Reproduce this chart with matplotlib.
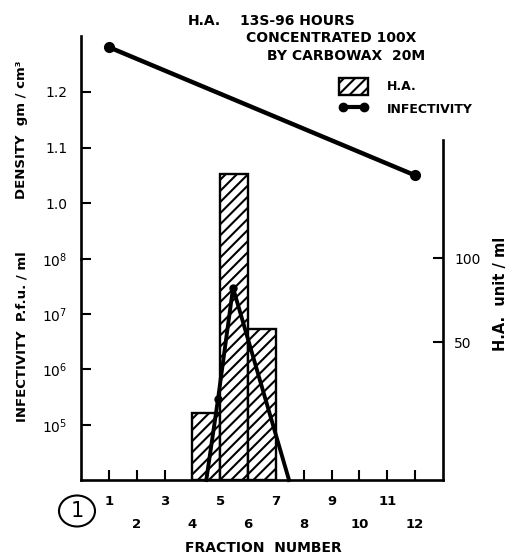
import matplotlib
matplotlib.use("Agg")
import matplotlib.pyplot as plt
from matplotlib.patches import Patch, Ellipse
from matplotlib.lines import Line2D
from matplotlib.ticker import NullLocator, FixedLocator

plt.rcParams["font.family"] = ["DejaVu Sans"]
plt.rcParams["mathtext.default"] = "regular"
plt.rcParams["hatch.linewidth"] = 1.5

# ---------------- data ----------------
density_fraction = [1, 12]
density_values = [1.28, 1.05]

ha_fraction = [4, 5, 6]
ha_units = [8, 150, 58]

inf_fraction = [4.5, 4.92, 5.46, 7.47]
inf_values = [1e4, 2.9e5, 3e7, 1e4]

odd_fractions = [1, 3, 5, 7, 9, 11]
even_fractions = [2, 4, 6, 8, 10, 12]
odd_labels = ["1", "3", "5", "7", "9", "11"]
even_labels = ["2", "4", "6", "8", "10", "12"]

density_ticks = [1.0, 1.1, 1.2]
density_tick_labels = ["1.0", "1.1", "1.2"]
inf_ticks = [1e5, 1e6, 1e7, 1e8]
inf_tick_labels = [r"$10^5$", r"$10^6$", r"$10^7$", r"$10^8$"]
ha_ticks = [50, 100]
ha_tick_labels = ["50", "100"]

# ---------------- layout ----------------
W, H = 513, 555
fig = plt.figure(figsize=(W / 100, H / 100), dpi=100)


def fx(px):
    return px / W


def fy(py):
    return 1 - py / H


L, R = 81, 443
TOP, MID, BOT = 36, 259, 480
XLIM = (0, 13)
HA_LIM = (-32, 232)
HA_SPINE_TOP = 170
SPW = 1.9

ax_ha = fig.add_axes([fx(L), fy(BOT), fx(R) - fx(L), fy(TOP) - fy(BOT)], zorder=1)
ax_up = fig.add_axes([fx(L), fy(MID), fx(R) - fx(L), fy(TOP) - fy(MID)], zorder=2)
ax_lo = fig.add_axes([fx(L), fy(BOT), fx(R) - fx(L), fy(MID) - fy(BOT)], zorder=2)

# ---- H.A. bars (right axis) ----
ax_ha.set_xlim(*XLIM)
ax_ha.set_ylim(*HA_LIM)
ax_ha.bar(ha_fraction, [v - HA_LIM[0] for v in ha_units], bottom=HA_LIM[0],
          width=1, align="edge", facecolor="white", edgecolor="black",
          hatch="///", linewidth=1.7)
for s in ["left", "top", "bottom"]:
    ax_ha.spines[s].set_visible(False)
ax_ha.spines["right"].set_linewidth(SPW)
ax_ha.spines["right"].set_bounds(HA_LIM[0], HA_SPINE_TOP)
ax_ha.set_xticks([])
ax_ha.yaxis.tick_right()
ax_ha.set_yticks(ha_ticks)
ax_ha.set_yticklabels(ha_tick_labels)
ax_ha.tick_params(axis="y", direction="in", length=7, width=1.5, pad=8,
                  labelsize=10)
ax_ha.patch.set_visible(False)

# ---- density (upper left axis) ----
ax_up.patch.set_visible(False)
ax_up.set_xlim(*XLIM)
ax_up.set_ylim(0.9, 1.3)
ax_up.plot(density_fraction, density_values, color="black", lw=3.2,
           marker="o", ms=7, clip_on=False)
for s in ["right", "top", "bottom"]:
    ax_up.spines[s].set_visible(False)
ax_up.spines["left"].set_linewidth(SPW)
ax_up.set_xticks([])
ax_up.set_yticks(density_ticks)
ax_up.set_yticklabels(density_tick_labels)
ax_up.tick_params(axis="y", direction="in", length=7, width=1.5, pad=10,
                  labelsize=10)

# ---- infectivity (lower left axis, log) ----
ax_lo.patch.set_visible(False)
ax_lo.set_xlim(*XLIM)
ax_lo.set_yscale("log")
ax_lo.set_ylim(1e4, 1e8)
ax_lo.plot(inf_fraction, inf_values, color="black", lw=2.8,
           marker="o", ms=5, markevery=[1, 2], clip_on=False)
for s in ["right", "top"]:
    ax_lo.spines[s].set_visible(False)
ax_lo.spines["left"].set_linewidth(SPW)
ax_lo.spines["bottom"].set_linewidth(SPW)
ax_lo.yaxis.set_major_locator(FixedLocator(inf_ticks))
ax_lo.yaxis.set_minor_locator(NullLocator())
ax_lo.set_yticklabels(inf_tick_labels)
ax_lo.tick_params(axis="y", which="both", direction="in", length=7, width=1.5,
                  pad=10, labelsize=10)
ax_lo.set_xticks(odd_fractions)
ax_lo.set_xticklabels(odd_labels)
ax_lo.set_xticks(even_fractions, minor=True)
ax_lo.set_xticklabels(even_labels, minor=True)
ax_lo.tick_params(axis="x", which="major", direction="in", length=7, width=1.5,
                  pad=11, labelsize=9.5)
ax_lo.tick_params(axis="x", which="minor", direction="in", length=7, width=1.5,
                  pad=27, labelsize=9.5)
for lab in ax_lo.get_xticklabels(which="both"):
    lab.set_fontweight("bold")

# ---------------- texts ----------------
tkw = dict(fontsize=10, fontweight="bold", va="center")
fig.text(fx(188), fy(21), "H.A.", ha="left", **tkw)
fig.text(fx(240), fy(21), "13S-96 HOURS", ha="left", **tkw)
fig.text(fx(246), fy(38), "CONCENTRATED 100X", ha="left", **tkw)
fig.text(fx(267), fy(56), "BY CARBOWAX  20M", ha="left", **tkw)

fig.text(fx(22), fy(130), "DENSITY  gm / cm\u00b3", rotation=90, ha="center",
         va="center", fontsize=9.5, fontweight="bold")
fig.text(fx(22), fy(337), "INFECTIVITY  P.f.u. / ml", rotation=90, ha="center",
         va="center", fontsize=9.5, fontweight="bold")
fig.text(fx(500), fy(294), "H.A.  unit / ml", rotation=90, ha="center",
         va="center", fontsize=10.5, fontweight="bold")
fig.text(fx(263), fy(548), "FRACTION  NUMBER", ha="center", va="center",
         fontsize=10, fontweight="bold")

# circled figure number
fig.patches.append(Ellipse((fx(77), fy(511)), 36 / W, 31 / H,
                           transform=fig.transFigure, facecolor="none",
                           edgecolor="black", lw=1.5))
fig.text(fx(77), fy(511), "1", ha="center", va="center", fontsize=15)

# ---------------- legend ----------------
handles = [Patch(facecolor="white", edgecolor="black", hatch="///", lw=1.7),
           Line2D([], [], color="black", lw=3, marker="o", ms=6)]
fig.legend(handles=handles, labels=["H.A.", "INFECTIVITY"],
           loc="upper left", bbox_to_anchor=(fx(339), fy(78)),
           bbox_transform=fig.transFigure, frameon=False, borderpad=0,
           borderaxespad=0, handlelength=2.3, handleheight=1.7,
           handletextpad=1.5, labelspacing=0.45, numpoints=2,
           prop={"weight": "bold", "size": 9})

fig.savefig("out.png", dpi=100)
